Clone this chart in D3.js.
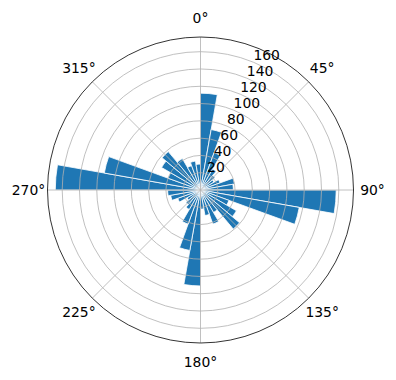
<!DOCTYPE html>
<html>
<head>
<meta charset="utf-8">
<script src="https://cdn.jsdelivr.net/npm/d3@7"></script>
<style>
  body { margin: 0; background: #fff; }
  text { font-family: "DejaVu Sans", sans-serif; }
</style>
</head>
<body>
<div id="chart"></div>
<script>
// bin start angles (degrees, clockwise from north) and bar heights
var binStarts = [0, 10, 20, 30, 40, 50, 60, 70, 80, 90, 100, 110,
                 120, 130, 140, 150, 160, 170, 180, 190, 200, 210, 220, 230,
                 240, 250, 260, 270, 280, 290, 300, 310, 320, 330, 340, 350];
var counts = [112, 71, 46, 28, 22, 18, 24, 40, 38, 157, 116, 35,
              48, 59, 30, 42, 30, 22, 111, 71, 42, 26, 22, 18,
              28, 35, 38, 168, 113, 40, 52, 58, 42, 30, 34, 30];
var binWidth = 10;
var rTicks = [20, 40, 60, 80, 100, 120, 140, 160];
var thetaTicks = [0, 45, 90, 135, 180, 225, 270, 315];

var width = 396, height = 380;
var cx = 200.5, cy = 190;
var radius = 153;

var svg = d3.select("#chart").append("svg")
    .attr("width", width)
    .attr("height", height);

var g = svg.append("g").attr("transform", `translate(${cx},${cy})`);

var rScale = d3.scaleLinear().domain([0, 177]).range([0, radius]);
var rad = d => d * Math.PI / 180;

var arc = d3.arc()
    .innerRadius(0)
    .outerRadius(d => rScale(d.value))
    .startAngle(d => rad(d.angle))
    .endAngle(d => rad(d.angle + binWidth));

var bars = binStarts.map((a, i) => ({angle: a, value: counts[i]}));

// bars
g.selectAll("path.bar")
    .data(bars)
    .join("path")
    .attr("class", "bar")
    .attr("d", arc)
    .attr("fill", "#1f77b4")
    .attr("stroke", "#fff")
    .attr("stroke-width", 0.8)
    .attr("stroke-linejoin", "miter");

// grid circles (drawn over bars like matplotlib)
g.selectAll("circle.grid")
    .data(rTicks)
    .join("circle")
    .attr("class", "grid")
    .attr("r", d => rScale(d))
    .attr("fill", "none")
    .attr("stroke", "#b0b0b0")
    .attr("stroke-width", 0.8);

// spokes
g.selectAll("line.spoke")
    .data(thetaTicks)
    .join("line")
    .attr("class", "spoke")
    .attr("x1", 0).attr("y1", 0)
    .attr("x2", d => radius * Math.sin(rad(d)))
    .attr("y2", d => -radius * Math.cos(rad(d)))
    .attr("stroke", "#b0b0b0")
    .attr("stroke-width", 0.8);

// outer frame
g.append("circle")
    .attr("r", radius)
    .attr("fill", "none")
    .attr("stroke", "#000")
    .attr("stroke-width", 0.8);

// theta labels
g.selectAll("text.theta")
    .data(thetaTicks)
    .join("text")
    .attr("class", "theta")
    .attr("x", d => (radius + 19) * Math.sin(rad(d)))
    .attr("y", d => -(radius + 19) * Math.cos(rad(d)))
    .attr("text-anchor", "middle")
    .attr("dominant-baseline", "central")
    .attr("font-size", "13.9px")
    .text(d => d + "°");

// r labels along 22.5 deg
g.selectAll("text.rlab")
    .data(rTicks)
    .join("text")
    .attr("class", "rlab")
    .attr("x", d => rScale(d) * Math.sin(rad(22.5)))
    .attr("y", d => -rScale(d) * Math.cos(rad(22.5)) - 2)
    .attr("text-anchor", "start")
    .attr("font-size", "13.9px")
    .text(d => d);
</script>
</body>
</html>
